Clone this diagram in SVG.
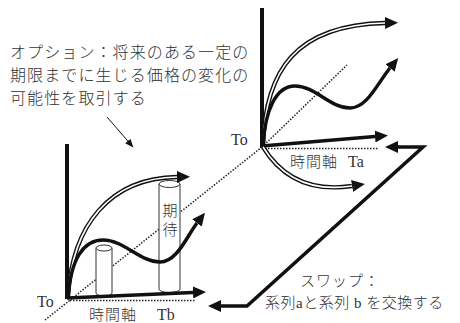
<svg xmlns="http://www.w3.org/2000/svg" width="460" height="323" viewBox="0 0 460 323">
<defs>
<style>
.txt{font-family:"Liberation Serif","Noto Sans CJK JP",serif;fill:#333;font-weight:300}
.jp{font-size:16px;letter-spacing:1.1px}
.thick{fill:none;stroke:#111;stroke-width:3.5;stroke-linecap:butt;stroke-linejoin:miter}
.axis{stroke:#111;stroke-width:4}
.dot{fill:none;stroke:#222;stroke-width:1.5;stroke-dasharray:1.5 1.5}
.dblo{fill:none;stroke:#111;stroke-width:4.4}
.dbli{fill:none;stroke:#fff;stroke-width:1.6}
.cyl{fill:#fff;stroke:#333;stroke-width:1}
.thin{fill:none;stroke:#111;stroke-width:1}
</style>
<marker id="ah" markerUnits="userSpaceOnUse" markerWidth="14" markerHeight="12" refX="0" refY="6" orient="auto-start-reverse">
<path d="M0,0 L13,6 L0,12 z" fill="#111"/>
</marker>
<marker id="ahs" markerUnits="userSpaceOnUse" markerWidth="9" markerHeight="8" refX="0" refY="4" orient="auto">
<path d="M0,0.5 L8.5,4 L0,7.5 z" fill="#111"/>
</marker>
</defs>

<g id="option-text" class="txt jp">
<text x="10" y="58">オプション：将来のある一定の</text>
<text x="10" y="81">期限までに生じる価格の変化の</text>
<text x="10" y="104">可能性を取引する</text>
</g>

<g id="right-chart">
<path class="dot" d="M262,147 L347,65"/>
<path class="dot" d="M265,148.5 L378,148.5"/>
<line class="axis" x1="262" y1="8" x2="262" y2="148"/>
<path class="thick" d="M262,146 L375,136.5" marker-end="url(#ah)"/>
<path class="dblo" d="M263,146 C265,70 296,25 385,23" marker-end="url(#ah)"/>
<path class="dbli" d="M263,146 C265,70 296,25 385,23"/>
<path class="thick" d="M263,146 C265,110 276,86 295,86 C315,86 330,108 350,108 C367,108 377,84 390,68" marker-end="url(#ah)"/>
<path class="dblo" d="M263,147 C282,178 312,192 352,186" marker-end="url(#ah)"/>
<path class="dbli" d="M263,147 C282,178 312,192 352,186"/>
<text class="txt" x="231" y="145" font-size="16">To</text>
<text class="txt" x="290" y="167" font-size="15" letter-spacing="1">時間軸</text>
<text class="txt" x="348" y="167" font-size="16">Ta</text>
</g>

<g id="left-chart">
<path class="dot" d="M45,320 L262,147"/>
<path class="dot" d="M70,300.5 L195,300.5"/>
<g id="cyl-small">
<path class="cyl" d="M96,248 L96,293 A8,3 0 0 0 112,293 L112,248 z"/>
<ellipse class="cyl" cx="104" cy="248" rx="8" ry="3"/>
</g>
<g id="cyl-tall">
<path class="cyl" d="M159,184 L159,289 A10.5,3.5 0 0 0 180,289 L180,184 z"/>
<ellipse class="cyl" cx="169.5" cy="184" rx="10.5" ry="3.5"/>
<text class="txt" x="170" y="216" font-size="15" text-anchor="middle">期</text>
<text class="txt" x="170" y="235" font-size="15" text-anchor="middle">待</text>
</g>
<line class="axis" x1="67" y1="144" x2="67" y2="299"/>
<path class="thick" d="M67,298 L193,292.5" marker-end="url(#ah)"/>
<path class="dblo" d="M68,297 C72,225 110,178 177,177" marker-end="url(#ah)"/>
<path class="dbli" d="M68,297 C72,225 110,178 177,177"/>
<path class="thick" d="M68,297 C71,258 84,240 103,240 C124,240 140,262 160,262 C177,262 187,236 197,223" marker-end="url(#ah)"/>
<text class="txt" x="37" y="307" font-size="16">To</text>
<text class="txt" x="89" y="320" font-size="15" letter-spacing="1">時間軸</text>
<text class="txt" x="157" y="320" font-size="16">Tb</text>
</g>

<g id="connectors">
<path class="thin" d="M107,117 L127.8,141" marker-end="url(#ahs)"/>
<path class="thick" d="M398,147 L423,147 L247,306 L221,306" marker-start="url(#ah)" marker-end="url(#ah)"/>
</g>

<g id="swap-text" class="txt">
<text x="300" y="286" font-size="15" letter-spacing="1">スワップ：</text>
<text x="265" y="308" font-size="15" letter-spacing="0.5">系列aと系列 b を交換する</text>
</g>
</svg>
